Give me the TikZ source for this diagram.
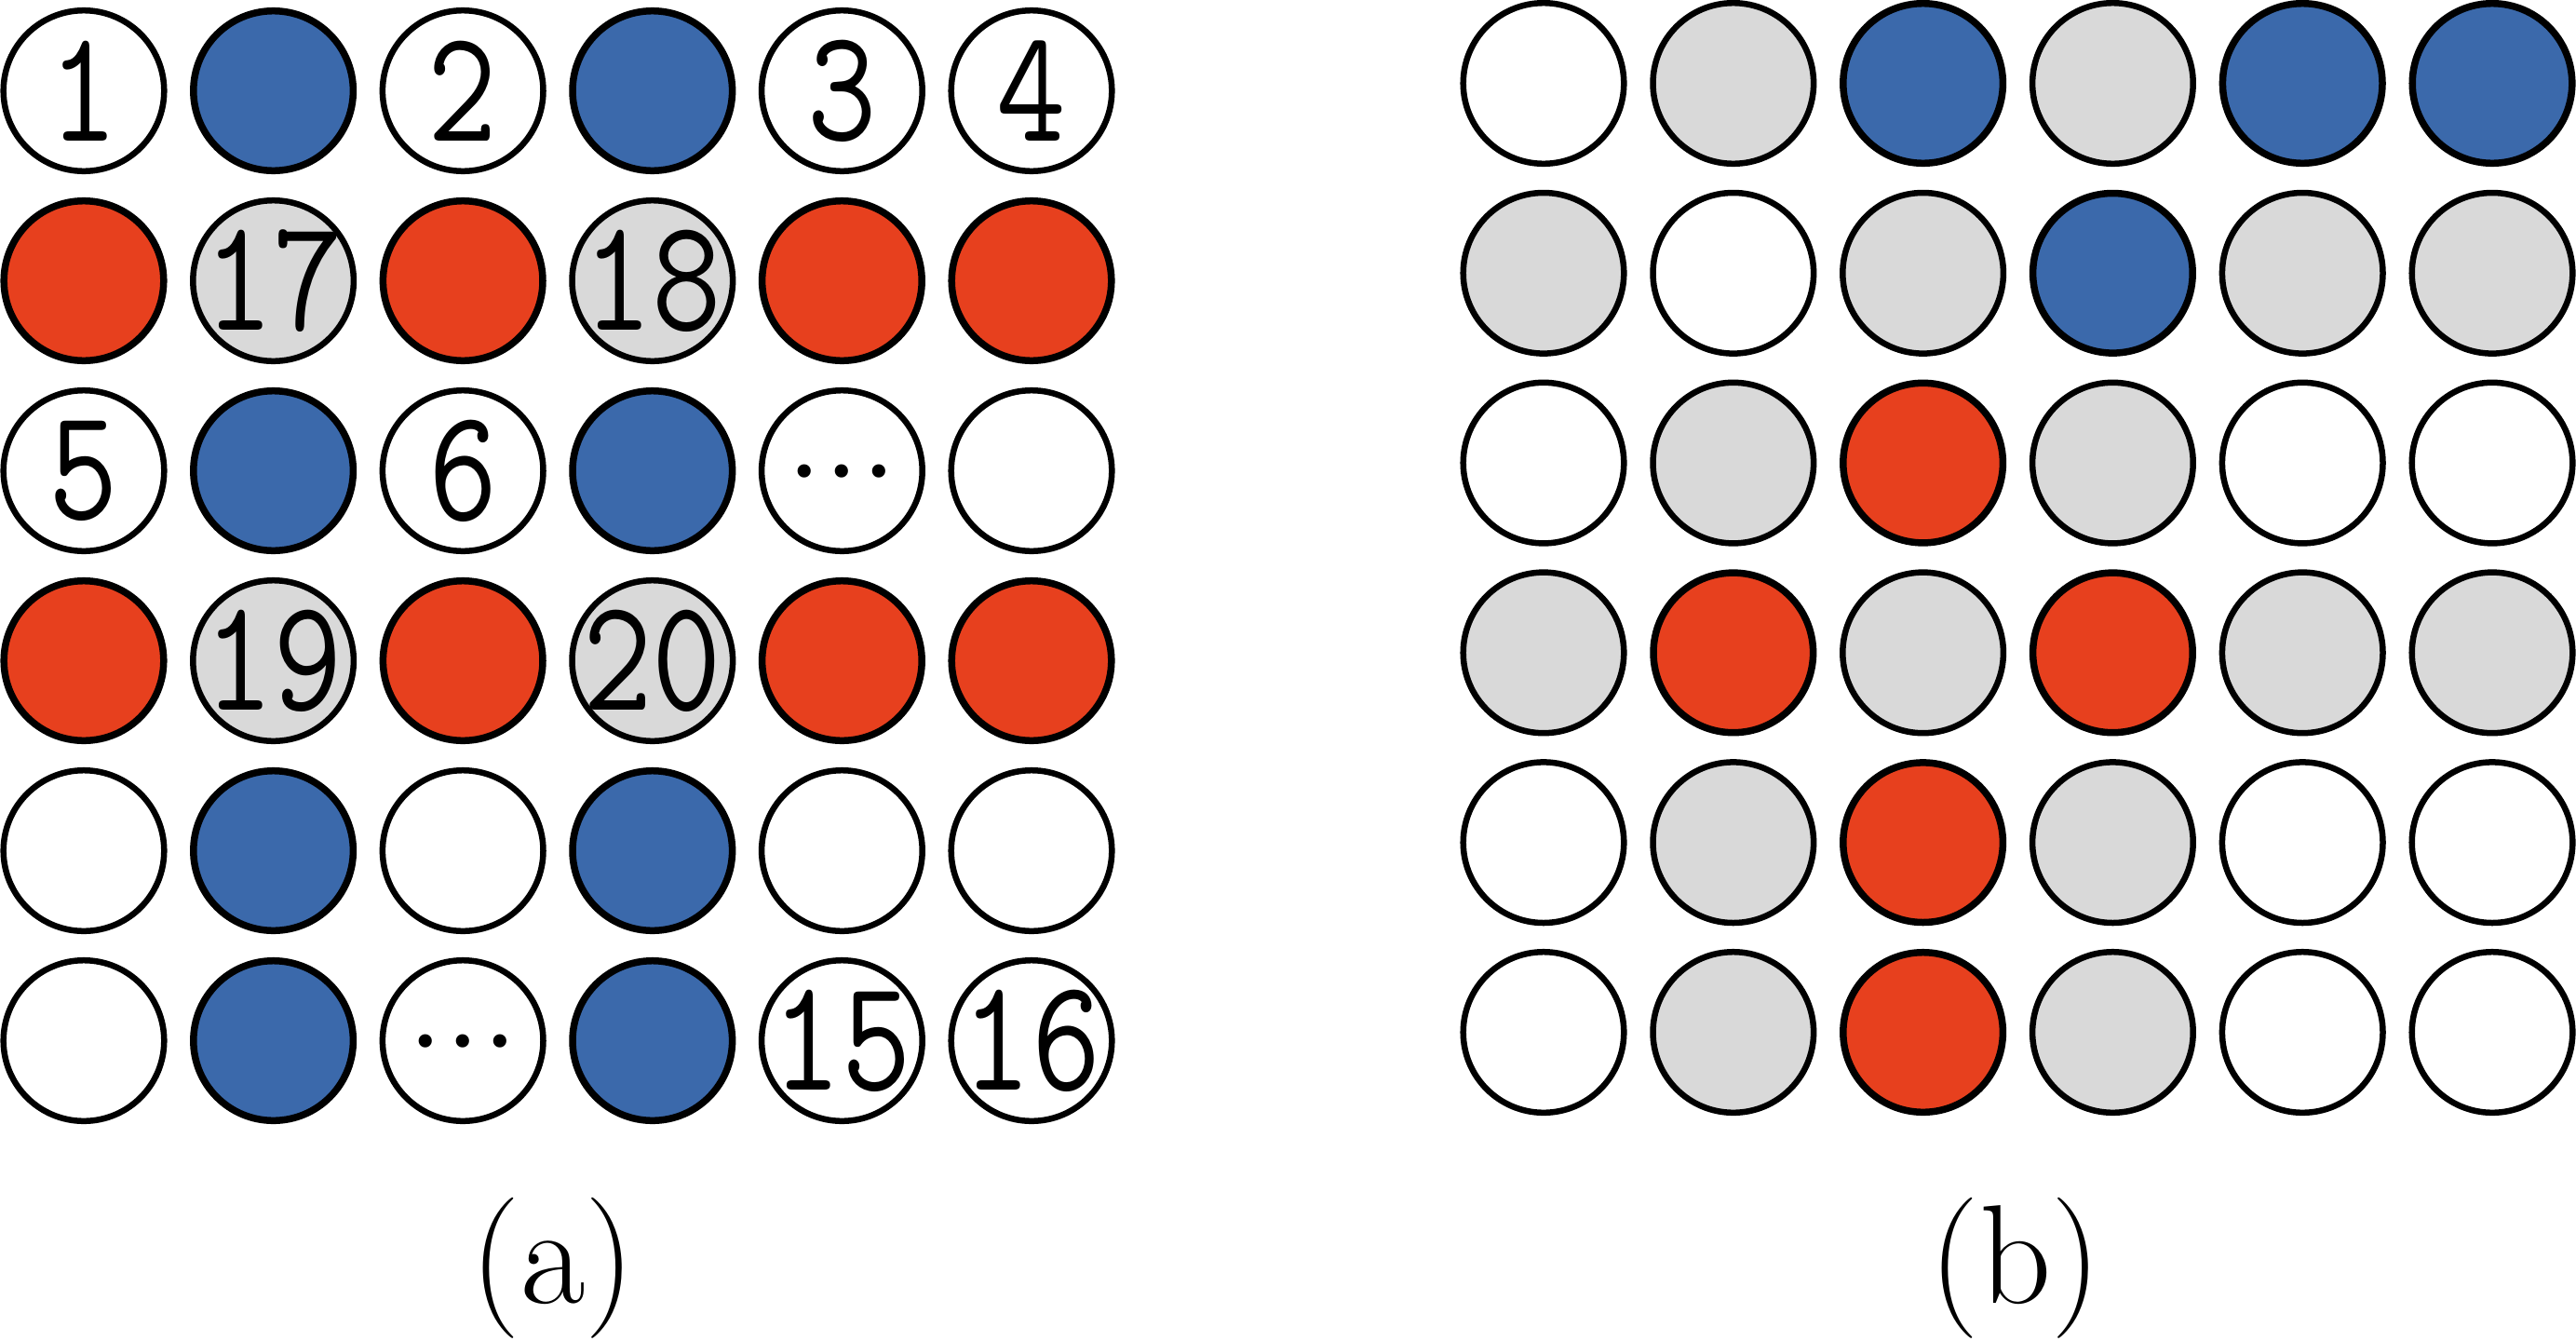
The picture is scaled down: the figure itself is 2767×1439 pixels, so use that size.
\documentclass[tikz,border=0pt]{standalone}
\usepackage{fontspec}
\newfontfamily\capfont{Liberation Serif}
\definecolor{bluefill}{HTML}{3B69AB}
\definecolor{redfill}{HTML}{E7401E}
\definecolor{grayfill}{HTML}{D9D9D9}
\newcommand\sqz[1]{\scalebox{0.84}[1]{#1}}
\begin{document}
\begin{tikzpicture}[x=0.01cm,y=-0.01cm]
\useasboundingbox (0,0) rectangle (2767,1439);
\tikzset{
  disc/.style={circle, draw=black, line width=0.065cm, minimum size=1.725cm, inner sep=0pt},
  wh/.style={disc, fill=white},
  gr/.style={disc, fill=grayfill},
  bl/.style={disc, fill=bluefill, line width=0.075cm, minimum size=1.715cm},
  rd/.style={disc, fill=redfill, line width=0.075cm, minimum size=1.715cm},
  num/.style={font=\ttfamily\fontsize{49}{49}\selectfont, inner sep=0pt},
  ellip/.style={font=\capfont\fontsize{34}{34}\selectfont, inner sep=0pt, anchor=base, yshift=-0.06cm},
  lab/.style={font=\rmfamily\fontsize{43}{43}\selectfont, inner sep=0pt, anchor=base},
}
% left grid
\foreach \r/\row in {1/{wh,bl,wh,bl,wh,wh},2/{rd,gr,rd,gr,rd,rd},3/{wh,bl,wh,bl,wh,wh},4/{rd,gr,rd,gr,rd,rd},5/{wh,bl,wh,bl,wh,wh},6/{wh,bl,wh,bl,wh,wh}}{
  \foreach \s [count=\c] in \row {
    \node[\s] (L\r-\c) at ({90+(\c-1)*203.6},{97.5+(\r-1)*204}) {};
  }
}
% right grid
\foreach \r/\row in {1/{wh,gr,bl,gr,bl,bl},2/{gr,wh,gr,bl,gr,gr},3/{wh,gr,rd,gr,wh,wh},4/{gr,rd,gr,rd,gr,gr},5/{wh,gr,rd,gr,wh,wh},6/{wh,gr,rd,gr,wh,wh}}{
  \foreach \s [count=\c] in \row {
    \node[\s] (R\r-\c) at ({1658+(\c-1)*203.8},{89.5+(\r-1)*203.8}) {};
  }
}
% numbers
\node[num] (t1) at (L1-1.center) {\sqz{1}};
\node[num] (t2) at (L1-3.center) {\sqz{2}};
\node[num] (t3) at (L1-5.center) {\sqz{3}};
\node[num] (t4) at (L1-6.center) {\sqz{4}};
\node[num] (t17) at (L2-2.center) {\sqz{17}};
\node[num] (t18) at (L2-4.center) {\sqz{18}};
\node[num] (t5) at (L3-1.center) {\sqz{5}};
\node[num] (t6) at (L3-3.center) {\sqz{6}};
\node[ellip] (e1) at (L3-5.center) {…};
\node[num] (t19) at (L4-2.center) {\sqz{19}};
\node[num] (t20) at (L4-4.center) {\sqz{20}};
\node[ellip] (e2) at (L6-3.center) {…};
\node[num] (t15) at (L6-5.center) {\sqz{15}};
\node[num] (t16) at (L6-6.center) {\sqz{16}};
% captions
\node[lab] (capa) at (594,1399) {(a)};
\node[lab] (capb) at (2165,1399) {(b)};
\end{tikzpicture}
\end{document}
